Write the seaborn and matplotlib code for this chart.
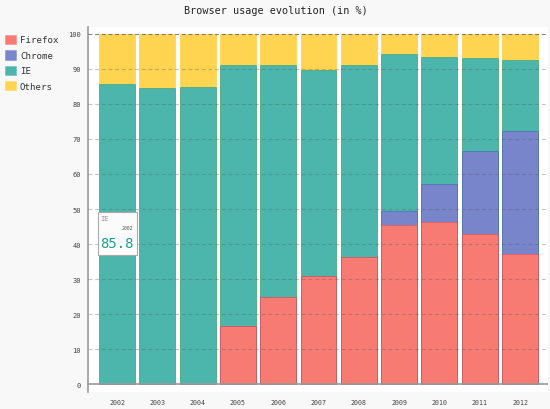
import matplotlib
matplotlib.use("Agg")
import matplotlib.pyplot as plt
import matplotlib.patches as mpatches
from matplotlib.colors import to_rgba
import seaborn as sns
import numpy as np
import pandas as pd

years = ["2002", "2003", "2004", "2005", "2006", "2007", "2008", "2009", "2010", "2011", "2012"]
firefox = [None, None, None, 16.6, 25, 31, 36.4, 45.5, 46.3, 42.8, 37.1]
chrome = [None, None, None, None, None, None, 0, 3.9, 10.8, 23.8, 35.3]
ie = [85.8, 84.6, 84.7, 74.5, 66, 58.6, 54.7, 44.8, 36.2, 26.6, 20.1]
others = [14.2, 15.4, 15.3, 8.9, 9, 10.4, 8.9, 5.8, 6.7, 6.8, 7.5]
series_names = ["Firefox", "Chrome", "IE", "Others"]

base_colors = ["#F44336", "#3F51B5", "#009688", "#FFC107"]
fill_colors = ["#f77b72", "#7985cb", "#4cb6ac", "#ffd451"]

sns.set_theme(style="white")
plt.rcParams["font.family"] = ["DejaVu Sans Mono", "DejaVu Sans"]

fig = plt.figure(figsize=(5.5, 4.1), dpi=100, facecolor="#f8f8f8")
ax = fig.add_axes([0.16, 0.041, 0.836, 0.891])
ax.set_facecolor("white")

vals = np.array([[v if v is not None else 0 for v in s] for s in (firefox, chrome, ie, others)])
cum = np.cumsum(vals, axis=0)

# draw from top of stack downwards (overlapping, opaque colours)
for i in range(3, -1, -1):
    df = pd.DataFrame({"year": years, "value": cum[i]})
    sns.barplot(data=df, x="year", y="value", color=fill_colors[i], saturation=1,
                width=0.89, edgecolor=to_rgba(base_colors[i], 0.45), linewidth=0.7, ax=ax, zorder=2)

ax.set_xlim(-0.72, 10.69)
ax.set_ylim(-2.3, 102)
ax.set_xlabel("")
ax.set_ylabel("")
ax.set_yticks(range(0, 101, 10))
for y in range(10, 101, 10):
    ax.axhline(y, color=(0.35, 0.35, 0.35, 0.75 if y == 100 else 0.35), lw=0.8,
               ls=(0, (3.5, 2.5)), zorder=4)
ax.axhline(0, color="#999999", lw=1.2, zorder=4)

for sp in ["top", "right", "bottom"]:
    ax.spines[sp].set_visible(False)
ax.spines["left"].set_color("#999999")
ax.spines["left"].set_linewidth(1.2)

ax.tick_params(axis="y", labelsize=5, labelcolor="#444444", length=3, width=0.6, color="#aaaaaa", pad=2)
ax.tick_params(axis="x", labelsize=4.8, labelcolor="#444444", length=0, pad=5)

fig.suptitle("Browser usage evolution (in %)", x=0.502, y=0.985, fontsize=7.3, color="#222222",
             va="top")

handles = [mpatches.Patch(facecolor=fill_colors[i], edgecolor=to_rgba(base_colors[i], 0.3), linewidth=0.5)
           for i in range(4)]
fig.legend(handles, series_names, loc="upper left", bbox_to_anchor=(0.003, 0.922), frameon=False,
           fontsize=6.6, handlelength=1.2, handleheight=1.2, handletextpad=0.4,
           labelspacing=0.62, borderaxespad=0.0, labelcolor="#333333")

# tooltip
rect = mpatches.Rectangle((-0.475, 37.0), 0.96, 12.2, facecolor="#fbfbfb", edgecolor="#aaaaaa",
                          linewidth=0.8, zorder=5)
ax.add_patch(rect)
ax.text(-0.42, 47.3, "IE", fontsize=5, color="#999999", zorder=6, va="center")
ax.text(0.40, 44.6, "2002", fontsize=3.5, color="#555555", zorder=6, va="center", ha="right")
ax.text(-0.42, 40.4, "85.8", fontsize=10, color="#1a9e92", zorder=6, va="center")

fig.savefig("out.png", dpi=100, facecolor=fig.get_facecolor())
